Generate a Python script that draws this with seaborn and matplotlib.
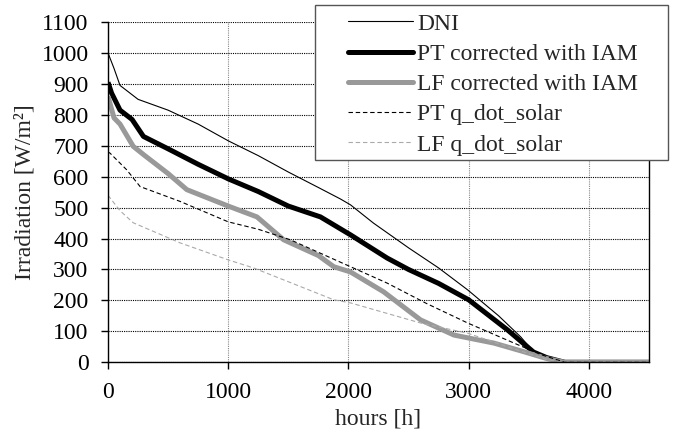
import numpy as np
import pandas as pd
import matplotlib
matplotlib.use("Agg")
import matplotlib.pyplot as plt
from matplotlib.patches import Rectangle
import seaborn as sns

# ---- data ----
dni_hours = [0, 50, 100, 250, 500, 750, 1000, 1250, 1500, 1750, 1933, 2017, 2208, 2500, 2750, 2992, 3250, 3433, 3542, 3650, 3800, 4500]
dni_vals = [1000, 950, 895, 850, 815, 770, 716, 668, 615, 565, 528, 509, 450, 370, 305, 234, 150, 82, 33, 15, 0, 0]

pt_iam_hours = [0, 30, 100, 200, 295, 500, 750, 1000, 1250, 1500, 1767, 2017, 2322, 2500, 2750, 3000, 3322, 3540, 3650, 3800, 4500]
pt_iam_vals = [905, 870, 815, 785, 730, 690, 640, 593, 552, 505, 470, 412, 337, 300, 255, 202, 105, 33, 15, 0, 0]

lf_iam_hours = [0, 50, 100, 210, 300, 500, 656, 1000, 1239, 1461, 1750, 1878, 2017, 2292, 2600, 2878, 3211, 3461, 3650, 3800, 4500]
lf_iam_vals = [860, 790, 770, 698, 670, 610, 558, 505, 470, 396, 345, 309, 292, 228, 137, 88, 62, 34, 12, 0, 0]

pt_q_hours = [0, 17, 156, 267, 600, 1000, 1250, 1517, 2017, 2322, 2650, 2992, 3378, 3600, 3800, 4500]
pt_q_vals = [680, 676, 622, 568, 520, 454, 430, 396, 309, 256, 190, 127, 62, 25, 0, 0]

lf_q_hours = [0, 100, 210, 600, 1000, 1211, 1878, 2017, 2600, 2992, 3325, 3658, 3800, 4500]
lf_q_vals = [540, 490, 451, 386, 331, 305, 202, 192, 127, 94, 50, 8, 0, 0]

labels = ["DNI", "PT corrected with IAM", "LF corrected with IAM", "PT q_dot_solar", "LF q_dot_solar"]

# ---- style ----
sns.set_theme(style="ticks")
plt.rcParams["font.family"] = ["Liberation Serif", "DejaVu Serif"]
FS = 17
plt.rcParams["font.size"] = FS

fig = plt.figure(figsize=(6.75, 4.38), dpi=100)
ax = fig.add_axes([108/675, 1-362.3/438, (649-108)/675, (362.3-22)/438])

series = [
    (dni_hours, dni_vals, dict(color="black", lw=0.8, ls="-")),
    (pt_iam_hours, pt_iam_vals, dict(color="black", lw=3.6, ls="-")),
    (lf_iam_hours, lf_iam_vals, dict(color="#999999", lw=3.6, ls="-")),
    (pt_q_hours, pt_q_vals, dict(color="black", lw=0.8, ls=(0, (4, 2.5)))),
    (lf_q_hours, lf_q_vals, dict(color="#aaaaaa", lw=0.8, ls=(0, (4, 2.5)))),
]
for (h, v, st), lab in zip(series, labels):
    df = pd.DataFrame({"hours": h, "val": v})
    sns.lineplot(data=df, x="hours", y="val", ax=ax, label=lab, sort=False,
                 color=st["color"], linewidth=st["lw"], linestyle=st["ls"],
                 solid_capstyle="butt")

ax.set_xlim(0, 4500)
ax.set_ylim(0, 1100)
ax.set_xticks([0, 1000, 2000, 3000, 4000])
ax.set_yticks(np.arange(0, 1101, 100))
ax.grid(axis="y", color="black", lw=0.8, ls=(0, (1, 1)))
ax.grid(axis="x", color="#888888", lw=0.8, ls=(0, (1, 1)))
ax.set_axisbelow(True)
for s in ["left", "bottom", "right"]:
    ax.spines[s].set_color("black")
    ax.spines[s].set_linewidth(1.0)
ax.spines["top"].set_visible(False)
ax.tick_params(axis="x", length=5, width=1, pad=9, labelsize=FS, colors="black", direction="out")
ax.tick_params(axis="y", length=5, width=1, pad=9, labelsize=FS, colors="black", direction="out")
ax.set_xlabel("hours [h]", fontsize=FS, labelpad=4)
ax.set_ylabel("Irradiation [W/m²]", fontsize=FS, labelpad=4)

leg = ax.legend(loc="upper left", bbox_to_anchor=(348/675, 1-13/438), bbox_transform=fig.transFigure,
                frameon=False, fontsize=FS, handlelength=2.75, handletextpad=0.17,
                labelspacing=0.37, borderpad=0, borderaxespad=0)
leg.set_zorder(10)
for lh in leg.get_lines():
    lh.set_solid_capstyle("round")
frame = Rectangle((315/675, 1-160/438), (668-315)/675, (160-5)/438,
                  transform=fig.transFigure, facecolor="white",
                  edgecolor="#555555", lw=1.0, zorder=5, clip_on=False)
ax.add_artist(frame)

fig.savefig("out.png", dpi=100)
